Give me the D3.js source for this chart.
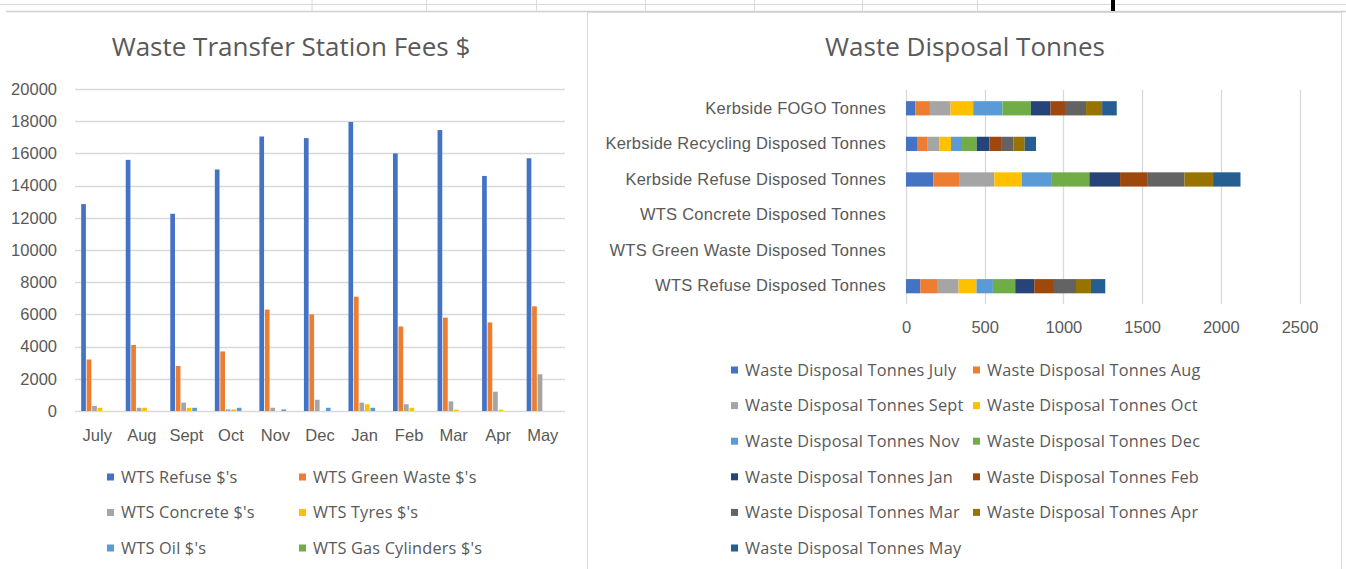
<!DOCTYPE html>
<html>
<head>
  <meta charset="utf-8">
  <title>Waste charts</title>
  <script src="https://cdn.jsdelivr.net/npm/d3@7"></script>
  <style>
    body { margin: 0; background: #fff; }
    svg { display: block; font-family: "Open Sans", sans-serif; }
    .tick text, .lbl { fill: #595959; }
    .title { fill: #595959; font-size: 26px; }
  </style>
</head>
<body>
<script>
  // ---- left chart data ----
  var months = ["July", "Aug", "Sept", "Oct", "Nov", "Dec", "Jan", "Feb", "Mar", "Apr", "May"];
  var feeSeries = ["WTS Refuse $'s", "WTS Green Waste $'s", "WTS Concrete $'s", "WTS Tyres $'s", "WTS Oil $'s", "WTS Gas Cylinders $'s"];
  var refuseFees   = [12850, 15600, 12250, 15000, 17050, 16950, 17950, 16000, 17450, 14600, 15700];
  var greenFees    = [3200, 4100, 2800, 3700, 6300, 6000, 7100, 5250, 5800, 5500, 6500];
  var concreteFees = [310, 200, 520, 100, 200, 700, 520, 420, 600, 1200, 2280];
  var tyresFees    = [200, 200, 200, 100, 0, 0, 420, 200, 80, 80, 0];
  var oilFees      = [0, 0, 200, 200, 100, 200, 200, 0, 0, 0, 0];
  var gasFees      = [0, 0, 0, 0, 0, 0, 0, 0, 0, 0, 0];
  var feeTicks = [0, 2000, 4000, 6000, 8000, 10000, 12000, 14000, 16000, 18000, 20000];

  // ---- right chart data ----
  var disposalCats = ["Kerbside FOGO Tonnes", "Kerbside Recycling Disposed Tonnes", "Kerbside Refuse Disposed Tonnes",
                      "WTS Concrete Disposed Tonnes", "WTS Green Waste Disposed Tonnes", "WTS Refuse Disposed Tonnes"];
  var fogoT      = [59, 93, 131, 144, 186, 180, 125, 92, 134, 102, 93];
  var recyclingT = [70, 64, 78, 74, 70, 93, 81, 74, 78, 72, 72];
  var kerbRefT   = [174, 163, 224, 174, 187, 243, 195, 172, 237, 182, 174];
  var concreteT  = [0, 0, 0, 0, 0, 0, 0, 0, 0, 0, 0];
  var greenT     = [0, 0, 0, 0, 0, 0, 0, 0, 0, 0, 0];
  var wtsRefT    = [91, 106, 137, 114, 104, 142, 121, 125, 140, 95, 91];
  var tonneTicks = [0, 500, 1000, 1500, 2000, 2500];

  var colors = ["#4472C4", "#ED7D31", "#A5A5A5", "#FFC000", "#5B9BD5", "#70AD47",
                "#264478", "#9E480E", "#636363", "#997300", "#255E91"];

  var svg = d3.select("body").append("svg")
      .attr("width", 1346)
      .attr("height", 569);

  // spreadsheet grid peeking out at the top
  svg.append("line").attr("x1", 0).attr("x2", 1346).attr("y1", 4.5).attr("y2", 4.5).attr("stroke", "#dadada");
  svg.append("line").attr("x1", 6).attr("x2", 1346).attr("y1", 11.5).attr("y2", 11.5).attr("stroke", "#d0d0d0").attr("stroke-width", 1.5);
  [312, 426.5, 536.5, 645.5, 754.5, 862.5, 977.5].forEach(function (cx) {
    svg.append("line").attr("x1", cx).attr("x2", cx).attr("y1", 0).attr("y2", 11).attr("stroke", "#dadada");
  });
  svg.append("rect").attr("x", 1111).attr("y", 0).attr("width", 4).attr("height", 11).attr("fill", "#000");

  // right chart frame
  svg.append("rect").attr("x", 587.5).attr("y", 12.5).attr("width", 754).attr("height", 570)
      .attr("fill", "#fff").attr("stroke", "#d9d9d9");

  // ================= left chart =================
  var feeData = [refuseFees, greenFees, concreteFees, tyresFees, oilFees, gasFees];

  var x0 = d3.scaleBand().domain(months).range([75, 565]).paddingInner(0.26).paddingOuter(0.13);
  var x1 = d3.scaleBand().domain(d3.range(feeSeries.length)).range([0, x0.bandwidth()]);
  var yFee = d3.scaleLinear().domain([0, 20000]).range([411, 89]);

  svg.append("text").attr("class", "title").attr("x", 291).attr("y", 56)
      .attr("text-anchor", "middle").text("Waste Transfer Station Fees $");

  var yAxisL = d3.axisLeft(yFee).tickValues(feeTicks).tickFormat(d3.format("d")).tickSize(0).tickPadding(0);
  var gyL = svg.append("g").attr("transform", "translate(57,0)").call(yAxisL);
  gyL.select(".domain").remove();
  gyL.selectAll("text").style("font-size", "16.5px");

  svg.append("g").selectAll("line").data(feeTicks).join("line")
      .attr("x1", 75).attr("x2", 565)
      .attr("y1", function (d) { return Math.round(yFee(d)) + 0.5; })
      .attr("y2", function (d) { return Math.round(yFee(d)) + 0.5; })
      .attr("stroke", "#d9d9d9").attr("stroke-width", 1.3);

  var groups = svg.append("g").selectAll("g").data(months).join("g")
      .attr("transform", function (m) { return "translate(" + x0(m) + ",0)"; });
  groups.selectAll("rect").data(function (m, i) {
        return feeData.map(function (s, k) { return {k: k, v: s[i]}; });
      }).join("rect")
      .attr("x", function (d) { return x1(d.k) + 0.4; })
      .attr("width", x1.bandwidth() - 0.8)
      .attr("y", function (d) { return yFee(d.v); })
      .attr("height", function (d) { return yFee(0) - yFee(d.v); })
      .attr("fill", function (d) { return colors[d.k]; });

  var xAxisL = d3.axisBottom(x0).tickSize(0).tickPadding(0);
  var gxL = svg.append("g").attr("transform", "translate(0,424)").call(xAxisL);
  gxL.select(".domain").remove();
  gxL.selectAll("text").style("font-size", "16.5px").attr("dy", "1em");

  var legL = svg.append("g").selectAll("g").data(feeSeries).join("g")
      .attr("transform", function (d, i) {
        return "translate(" + (i % 2 === 0 ? 107 : 299) + "," + (477 + Math.floor(i / 2) * 35.5) + ")";
      });
  legL.append("rect").attr("x", 0).attr("y", -3.5).attr("width", 7).attr("height", 7)
      .attr("fill", function (d, i) { return colors[i]; });
  legL.append("text").attr("class", "lbl").attr("x", 14).attr("dy", "0.35em")
      .style("font-size", "16.3px").style("letter-spacing", "0.2px").text(function (d) { return d; });

  // ================= right chart =================
  var catData = [fogoT, recyclingT, kerbRefT, concreteT, greenT, wtsRefT];
  var rows = disposalCats.map(function (c, i) {
    var r = {cat: c};
    months.forEach(function (m, j) { r[m] = catData[i][j]; });
    return r;
  });
  var stacked = d3.stack().keys(months)(rows);

  var xT = d3.scaleLinear().domain([0, 2500]).range([906, 1299.5]);
  var yT = d3.scaleBand().domain(disposalCats).range([90.5, 304]);
  var barH = yT.bandwidth() * 0.4;

  svg.append("text").attr("class", "title").attr("x", 965).attr("y", 56)
      .attr("text-anchor", "middle").text("Waste Disposal Tonnes");

  svg.append("g").selectAll("line").data(tonneTicks).join("line")
      .attr("x1", function (d) { return Math.round(xT(d)) + 0.5; })
      .attr("x2", function (d) { return Math.round(xT(d)) + 0.5; })
      .attr("y1", 90).attr("y2", 304)
      .attr("stroke", "#d9d9d9").attr("stroke-width", 1.3);

  svg.append("g").selectAll("g").data(stacked).join("g")
      .attr("fill", function (d, i) { return colors[i]; })
      .selectAll("rect").data(function (d) { return d; }).join("rect")
      .attr("x", function (d) { return xT(d[0]); })
      .attr("width", function (d) { return xT(d[1]) - xT(d[0]); })
      .attr("y", function (d) { return yT(d.data.cat) + (yT.bandwidth() - barH) / 2; })
      .attr("height", barH);

  var yAxisR = d3.axisLeft(yT).tickSize(0).tickPadding(0);
  var gyR = svg.append("g").attr("transform", "translate(886,0)").call(yAxisR);
  gyR.select(".domain").remove();
  gyR.selectAll("text").style("font-size", "16.5px").style("letter-spacing", "0.25px");

  var xAxisR = d3.axisBottom(xT).tickValues(tonneTicks).tickFormat(d3.format("d")).tickSize(0).tickPadding(0);
  var gxR = svg.append("g").attr("transform", "translate(0,316)").call(xAxisR);
  gxR.select(".domain").remove();
  gxR.selectAll("text").style("font-size", "16.5px").attr("dy", "1em");

  var legR = svg.append("g").selectAll("g").data(months).join("g")
      .attr("transform", function (d, i) {
        return "translate(" + (i % 2 === 0 ? 731 : 973) + "," + (370 + Math.floor(i / 2) * 35.6) + ")";
      });
  legR.append("rect").attr("x", 0).attr("y", -3.5).attr("width", 7).attr("height", 7)
      .attr("fill", function (d, i) { return colors[i]; });
  legR.append("text").attr("class", "lbl").attr("x", 14).attr("dy", "0.35em")
      .style("font-size", "16.3px").style("letter-spacing", "0.2px")
      .text(function (d) { return "Waste Disposal Tonnes " + d; });
</script>
</body>
</html>
